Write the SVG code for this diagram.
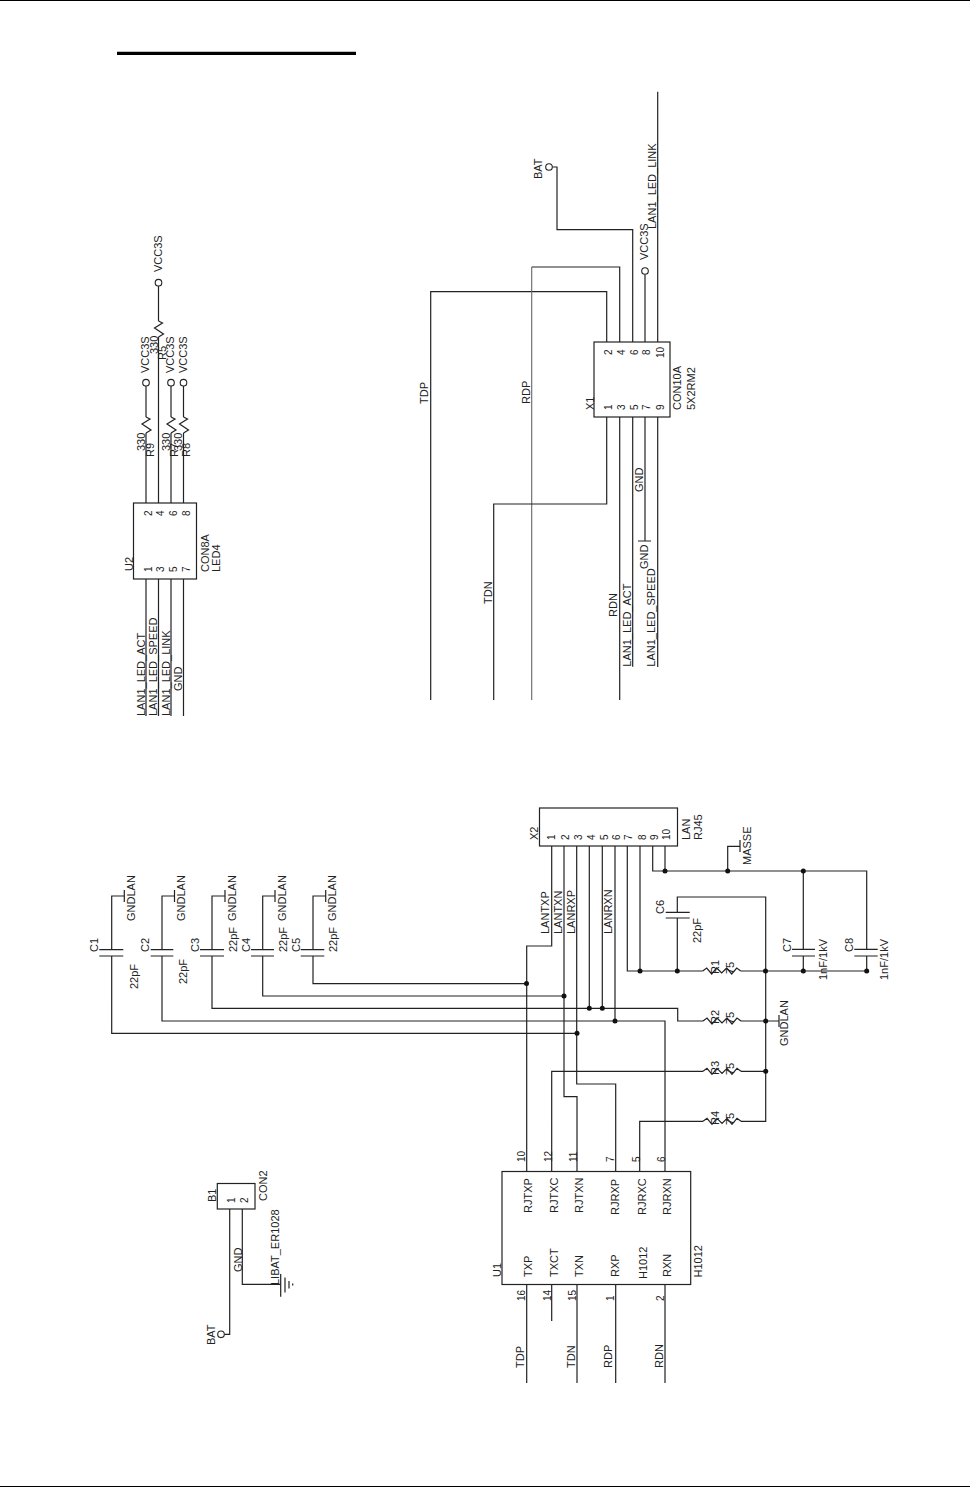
<svg xmlns="http://www.w3.org/2000/svg" width="970" height="1487" viewBox="0 0 970 1487">
<style>
text{font-family:"Liberation Sans",Arial,sans-serif;font-size:11px;fill:#222}
text.p{font-size:10px}
.w,.s,.g{fill:none;stroke:#222;stroke-width:1.2}
.l{fill:none;stroke:#666;stroke-width:1.1}
.b{fill:#fff;stroke:#222;stroke-width:1.2}
.c{fill:#fff;stroke:#222;stroke-width:1.1}
.d{fill:#111;stroke:none}
</style>
<defs>
<path id="rv" class="s" d="M0,16L5,13L-4,7L4,2L0,0"/>
<path id="rh" class="s" d="M0,0L4,-3L9,3L14,-3L19,2L24,-3L29,3L34,-3L38,0"/>
</defs>
<rect width="970" height="1487" fill="#fff"/>
<g id="page">
<path d="M0,0.5H970M0,1486.5H970" stroke="#000" stroke-width="1" fill="none"/>
<path d="M117,53.3H356" stroke="#000" stroke-width="3.2" fill="none"/>
</g>
<g id="connectors">
<path class="w" d="M146,503V433M146,417V386M158.5,503V337M158.5,321V286M171,503V433M171,417V386M183.5,503V433M183.5,417V386"/>
<path class="w" d="M146,579V716M158.5,579V716M171,579V716M183.5,579V716"/>
<path class="w" d="M606.7,342V291.7H430.7V700M619.7,342V267H531.7M632.7,342V229.7H557V167H552.5M645,342V274.5M657.7,342V91.7"/>
<path class="l" d="M531.7,267V700"/>
<path class="w" d="M606.7,417V504H493.7V700M619.7,417V700M632.7,417V666.7M645,417V541M638,541H651M657.7,417V667"/>
<path class="w" d="M652.7,846V871H866.7V949.3M665,846V871M727.7,871V846.3H740M740,840V852M803.3,871V949.3M803.3,956V971M866.7,956V971"/>
<path class="w" d="M627.3,846V971H702.7M640,846V971M740.7,971H866.7M677.3,971V918M677.3,912.3V897H765.7V1121.3H741M765.7,1071.3H741M765.7,1021H779M779,1015V1027M741,1021H765.7"/>
<path class="w" d="M551.7,846V946H526.7V1172M564,846V1096.7H577V1172M576.7,846V1084H615.7V1172M589.3,846V1008.3M602.3,846V1008.3M615,846V1021"/>
<path class="w" d="M313,956V983.7H526.7M262.7,956V996H564M212,956V1008.3H677.7V1021H703M162,956V1021H665V1172M111.7,956V1033.3H577"/>
<path class="w" d="M111.7,949.7V896H124M162,949.7V896H174.5M212,949.7V896H225M262.7,949.7V896H275M313,949.7V896H325.5"/>
<path class="w" d="M124.3,890V902M174.5,890V902M225,890V902M275,890V902M325.7,890V902"/>
<path class="w" d="M551.7,1172V1071.3H703M639.7,1172V1121.3H703"/>
<path class="w" d="M526.7,1284V1383M551.7,1284V1321M577,1284V1383M615.7,1284V1383M665,1284V1383"/>
<path class="w" d="M229.7,1209V1334.3H224.5M242.3,1209V1284.3H280.7"/>
<g>
<circle class="d" cx="665" cy="871" r="2.5"/><circle class="d" cx="727.7" cy="871" r="2.5"/><circle class="d" cx="803.3" cy="871" r="2.5"/>
<circle class="d" cx="640" cy="971" r="2.5"/><circle class="d" cx="677.3" cy="971" r="2.5"/><circle class="d" cx="765.5" cy="971" r="2.5"/><circle class="d" cx="803.3" cy="971" r="2.5"/><circle class="d" cx="866.7" cy="971" r="2.5"/>
<circle class="d" cx="526.5" cy="983.5" r="2.5"/><circle class="d" cx="564" cy="996" r="2.5"/><circle class="d" cx="589.3" cy="1008.3" r="2.5"/><circle class="d" cx="602.3" cy="1008.3" r="2.5"/><circle class="d" cx="615" cy="1021" r="2.5"/><circle class="d" cx="577" cy="1033.3" r="2.5"/>
<circle class="d" cx="765.7" cy="1021" r="2.5"/><circle class="d" cx="765.7" cy="1071.3" r="2.5"/>
</g>
</g>
<g id="U2">
<rect class="b" x="133.5" y="503" width="63" height="76"/>
<text transform="translate(133 571) rotate(-90)">U2</text>
<text transform="translate(209 572) rotate(-90)">CON8A</text>
<text transform="translate(219.5 572) rotate(-90)">LED4</text>
<text class="p" transform="translate(151.7 516) rotate(-90)">2</text><text class="p" transform="translate(164 516) rotate(-90)">4</text><text class="p" transform="translate(177 516) rotate(-90)">6</text><text class="p" transform="translate(190 516) rotate(-90)">8</text>
<text class="p" transform="translate(151.7 572) rotate(-90)">1</text><text class="p" transform="translate(164 572) rotate(-90)">3</text><text class="p" transform="translate(177 572) rotate(-90)">5</text><text class="p" transform="translate(190 572) rotate(-90)">7</text>
<text transform="translate(144.7 716) rotate(-90)">LAN1_LED_ACT</text>
<text transform="translate(157.2 716) rotate(-90)">LAN1_LED_SPEED</text>
<text transform="translate(169.5 716) rotate(-90)">LAN1_LED_LINK</text>
<text transform="translate(181.7 691) rotate(-90)">GND</text>
</g>
<g id="U2-resistors">
<use href="#rv" x="146" y="417"/><use href="#rv" x="158.5" y="321"/><use href="#rv" x="171" y="417"/><use href="#rv" x="183.5" y="417"/>
<text transform="translate(145 451) rotate(-90)">330</text><text transform="translate(153.5 457) rotate(-90)">R9</text>
<text transform="translate(158 354) rotate(-90)">330</text><text transform="translate(166 360) rotate(-90)">R5</text>
<text transform="translate(170 451) rotate(-90)">330</text><text transform="translate(178 457) rotate(-90)">R7</text>
<text transform="translate(182 451) rotate(-90)">330</text><text transform="translate(190 457) rotate(-90)">R8</text>
</g>
<g id="U2-power">
<circle class="c" cx="146" cy="382.7" r="3.3"/><circle class="c" cx="158.5" cy="282.7" r="3.3"/><circle class="c" cx="171" cy="382.7" r="3.3"/><circle class="c" cx="183.5" cy="382.7" r="3.3"/>
<text transform="translate(149 373) rotate(-90)">VCC3S</text><text transform="translate(162.3 272) rotate(-90)">VCC3S</text><text transform="translate(174.3 373) rotate(-90)">VCC3S</text><text transform="translate(186.7 373) rotate(-90)">VCC3S</text>
</g>
<g id="X1">
<rect class="b" x="594" y="342" width="76" height="75"/>
<text transform="translate(593.5 410) rotate(-90)">X1</text>
<text transform="translate(681 410) rotate(-90)">CON10A</text>
<text transform="translate(695 410) rotate(-90)">5X2RM2</text>
<text class="p" transform="translate(612 355) rotate(-90)">2</text><text class="p" transform="translate(624.5 355) rotate(-90)">4</text><text class="p" transform="translate(637.5 355) rotate(-90)">6</text><text class="p" transform="translate(650 355) rotate(-90)">8</text><text class="p" transform="translate(663.5 358) rotate(-90)">10</text>
<text class="p" transform="translate(612 410) rotate(-90)">1</text><text class="p" transform="translate(624.5 410) rotate(-90)">3</text><text class="p" transform="translate(637.5 410) rotate(-90)">5</text><text class="p" transform="translate(650 410) rotate(-90)">7</text><text class="p" transform="translate(663.5 410) rotate(-90)">9</text>
</g>
<g id="X1-nets">
<circle class="c" cx="549" cy="167" r="3.3"/><circle class="c" cx="645" cy="271" r="3.3"/>
<text transform="translate(542.3 179) rotate(-90)">BAT</text>
<text transform="translate(647.5 260) rotate(-90)">VCC3S</text>
<text transform="translate(655.5 229) rotate(-90)">LAN1_LED_LINK</text>
<text transform="translate(428 404) rotate(-90)">TDP</text>
<text transform="translate(530 404) rotate(-90)">RDP</text>
<text transform="translate(491.7 604) rotate(-90)">TDN</text>
<text transform="translate(617.3 617) rotate(-90)">RDN</text>
<text transform="translate(630.7 666.7) rotate(-90)">LAN1_LED_ACT</text>
<text transform="translate(655 666.7) rotate(-90)">LAN1_LED_SPEED</text>
<text transform="translate(643 492) rotate(-90)">GND</text>
<text transform="translate(648 569) rotate(-90)">GND</text>
</g>
<g id="X2">
<rect class="b" x="539.5" y="808" width="138" height="38"/>
<text transform="translate(538 840) rotate(-90)">X2</text>
<text transform="translate(690 840) rotate(-90)">LAN</text>
<text transform="translate(701.5 840) rotate(-90)">RJ45</text>
<text class="p" transform="translate(554.5 840) rotate(-90)">1</text><text class="p" transform="translate(569 840) rotate(-90)">2</text><text class="p" transform="translate(582 840) rotate(-90)">3</text><text class="p" transform="translate(595 840) rotate(-90)">4</text><text class="p" transform="translate(607.7 840) rotate(-90)">5</text><text class="p" transform="translate(620 840) rotate(-90)">6</text><text class="p" transform="translate(632 840) rotate(-90)">7</text><text class="p" transform="translate(645.7 840) rotate(-90)">8</text><text class="p" transform="translate(657.7 840) rotate(-90)">9</text><text class="p" transform="translate(670 840) rotate(-90)">10</text>
<text transform="translate(750.7 865) rotate(-90)">MASSE</text>
<text transform="translate(549.3 934) rotate(-90)">LANTXP</text>
<text transform="translate(561.7 934) rotate(-90)">LANTXN</text>
<text transform="translate(575 934) rotate(-90)">LANRXP</text>
<text transform="translate(612.3 934) rotate(-90)">LANRXN</text>
</g>
<g id="C1"><path class="g" d="M99.3,949.7H123.3M99.3,956H123.3"/><text transform="translate(98 952) rotate(-90)">C1</text><text transform="translate(138 989) rotate(-90)">22pF</text><text transform="translate(135 921) rotate(-90)">GNDLAN</text></g>
<g id="C2"><path class="g" d="M150.7,949.7H173.3M150.7,956H173.3"/><text transform="translate(149 952) rotate(-90)">C2</text><text transform="translate(187 984) rotate(-90)">22pF</text><text transform="translate(185 921) rotate(-90)">GNDLAN</text></g>
<g id="C3"><path class="g" d="M200,949.7H224M200,956H224"/><text transform="translate(199 952) rotate(-90)">C3</text><text transform="translate(236.7 952) rotate(-90)">22pF</text><text transform="translate(235.7 921) rotate(-90)">GNDLAN</text></g>
<g id="C4"><path class="g" d="M251,949.7H274M251,956H274"/><text transform="translate(250 952) rotate(-90)">C4</text><text transform="translate(286.7 952) rotate(-90)">22pF</text><text transform="translate(285.7 921) rotate(-90)">GNDLAN</text></g>
<g id="C5"><path class="g" d="M300.7,949.7H324.3M300.7,956H324.3"/><text transform="translate(300 952) rotate(-90)">C5</text><text transform="translate(336.7 952) rotate(-90)">22pF</text><text transform="translate(336 921) rotate(-90)">GNDLAN</text></g>
<g id="C6"><path class="g" d="M665.7,912.3H689.7M665.7,918H689.7"/><text transform="translate(664 914) rotate(-90)">C6</text><text transform="translate(701 943) rotate(-90)">22pF</text></g>
<g id="C7"><path class="g" d="M792,949.3H815M792,956H815"/><text transform="translate(791 952) rotate(-90)">C7</text><text transform="translate(826.7 980) rotate(-90)">1nF/1kV</text></g>
<g id="C8"><path class="g" d="M854.3,949.3H877.7M854.3,956H877.7"/><text transform="translate(853.3 952) rotate(-90)">C8</text><text transform="translate(888.3 980) rotate(-90)">1nF/1kV</text></g>
<g id="R1"><use href="#rh" x="702.7" y="971"/><text transform="translate(719 974) rotate(-90)">R1</text><text transform="translate(734 974) rotate(-90)">75</text></g>
<g id="R2"><use href="#rh" x="703" y="1021"/><text transform="translate(719 1024) rotate(-90)">R2</text><text transform="translate(733.5 1024) rotate(-90)">75</text><text transform="translate(788 1046) rotate(-90)">GNDLAN</text></g>
<g id="R3"><use href="#rh" x="703" y="1071.3"/><text transform="translate(719 1075) rotate(-90)">R3</text><text transform="translate(733.5 1075) rotate(-90)">75</text></g>
<g id="R4"><use href="#rh" x="703" y="1121.3"/><text transform="translate(719 1125) rotate(-90)">R4</text><text transform="translate(733.5 1125) rotate(-90)">75</text></g>
<g id="U1">
<rect class="b" x="502" y="1171.5" width="188.7" height="113"/>
<text transform="translate(501 1277) rotate(-90)">U1</text>
<text transform="translate(701.7 1277.5) rotate(-90)">H1012</text>
<text transform="translate(532.3 1213) rotate(-90)">RJTXP</text><text transform="translate(557.7 1213) rotate(-90)">RJTXC</text><text transform="translate(582.7 1213) rotate(-90)">RJTXN</text><text transform="translate(619.3 1215) rotate(-90)">RJRXP</text><text transform="translate(645.7 1215) rotate(-90)">RJRXC</text><text transform="translate(670.7 1215) rotate(-90)">RJRXN</text>
<text transform="translate(532.3 1277) rotate(-90)">TXP</text><text transform="translate(557.7 1277) rotate(-90)">TXCT</text><text transform="translate(582.7 1277) rotate(-90)">TXN</text><text transform="translate(619.3 1277) rotate(-90)">RXP</text><text transform="translate(646.7 1279) rotate(-90)">H1012</text><text transform="translate(670.7 1277) rotate(-90)">RXN</text>
<text class="p" transform="translate(525 1162) rotate(-90)">10</text><text class="p" transform="translate(552 1162) rotate(-90)">12</text><text class="p" transform="translate(577 1162) rotate(-90)">11</text><text class="p" transform="translate(614 1162) rotate(-90)">7</text><text class="p" transform="translate(640 1162) rotate(-90)">5</text><text class="p" transform="translate(665 1162) rotate(-90)">6</text>
<text class="p" transform="translate(525 1301) rotate(-90)">16</text><text class="p" transform="translate(551 1301) rotate(-90)">14</text><text class="p" transform="translate(576 1301) rotate(-90)">15</text><text class="p" transform="translate(614 1301) rotate(-90)">1</text><text class="p" transform="translate(664 1301) rotate(-90)">2</text>
<text transform="translate(524.3 1368) rotate(-90)">TDP</text><text transform="translate(575 1368) rotate(-90)">TDN</text><text transform="translate(612.3 1368) rotate(-90)">RDP</text><text transform="translate(662.7 1368) rotate(-90)">RDN</text>
</g>
<g id="B1">
<rect class="b" x="217.3" y="1183.5" width="37.7" height="25.5"/>
<text transform="translate(216 1202) rotate(-90)">B1</text>
<text transform="translate(266.7 1201) rotate(-90)">CON2</text>
<text class="p" transform="translate(235 1203) rotate(-90)">1</text><text class="p" transform="translate(247.7 1203) rotate(-90)">2</text>
<text transform="translate(241.7 1272) rotate(-90)">GND</text>
<text transform="translate(279.3 1285) rotate(-90)">LIBAT_ER1028</text>
<path class="g" d="M280.7,1274V1296.7M285,1277.5V1292.5M289,1281V1288.5M292.7,1283.5V1285.5"/>
<circle class="c" cx="221" cy="1334.3" r="3.3"/>
<text transform="translate(215 1345) rotate(-90)">BAT</text>
</g>
</svg>
